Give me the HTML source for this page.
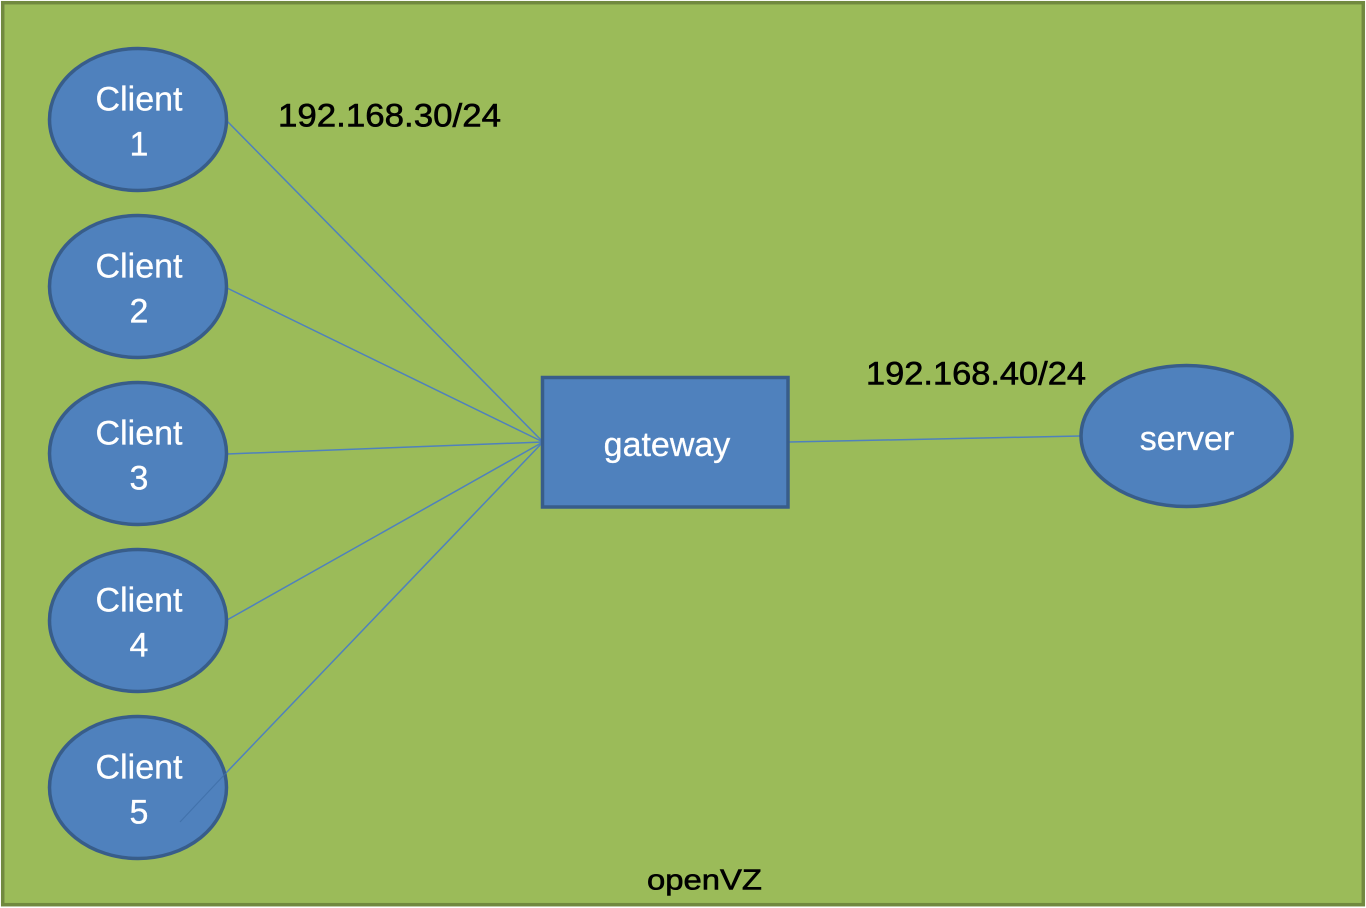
<!DOCTYPE html>
<html>
<head>
<meta charset="utf-8">
<style>
  html, body { margin: 0; padding: 0; background: #ffffff; }
  svg { display: block; }
  text { font-family: "Liberation Sans", Arial, sans-serif; }
</style>
</head>
<body>
<svg width="1366" height="908" viewBox="0 0 1366 908" xmlns="http://www.w3.org/2000/svg">
  <rect x="0" y="0" width="1366" height="908" fill="#ffffff"/>
  <!-- outer container -->
  <rect x="2.7" y="2.7" width="1360.6" height="902" fill="#9BBB59" stroke="#71893F" stroke-width="3.5"/>

  <!-- connectors -->
  <g stroke="#4F81BD" stroke-width="1.5" fill="none">
    <line x1="227" y1="121" x2="543" y2="442"/>
    <line x1="227" y1="288" x2="543" y2="442"/>
    <line x1="227" y1="454" x2="543" y2="442"/>
    <line x1="227" y1="620" x2="543" y2="442"/>
    <line x1="225" y1="774" x2="543" y2="442"/>
    <line x1="789" y1="442" x2="1080" y2="436"/>
  </g>

  <!-- clients -->
  <g fill="#4F81BD" stroke="#385D8A" stroke-width="3.5">
    <ellipse cx="138" cy="119.5" rx="88.5" ry="71"/>
    <ellipse cx="138" cy="286.5" rx="88.5" ry="71"/>
    <ellipse cx="138" cy="453.5" rx="88.5" ry="71"/>
    <ellipse cx="138" cy="620.5" rx="88.5" ry="71"/>
    <ellipse cx="138" cy="787.5" rx="88.5" ry="71"/>
  </g>
  <!-- faint line segment inside client 5 -->
  <line x1="180" y1="822" x2="226" y2="773" stroke="#3F6FA8" stroke-width="1.2" opacity="0.8"/>

  <!-- gateway -->
  <rect x="542.5" y="377.5" width="245.5" height="129.5" fill="#4F81BD" stroke="#385D8A" stroke-width="3.5"/>
  <!-- server -->
  <ellipse cx="1186.5" cy="436" rx="105.5" ry="70.5" fill="#4F81BD" stroke="#385D8A" stroke-width="3.5"/>

  <!-- client labels -->
  <g fill="#ffffff" stroke="#ffffff" stroke-width="0.3" font-size="34" text-anchor="middle">
    <text x="139" y="110.7">Client</text>
    <text x="139" y="155.7">1</text>
    <text x="139" y="277.7">Client</text>
    <text x="139" y="322.7">2</text>
    <text x="139" y="444.7">Client</text>
    <text x="139" y="489.7">3</text>
    <text x="139" y="611.7">Client</text>
    <text x="139" y="656.7">4</text>
    <text x="139" y="778.7">Client</text>
    <text x="139" y="823.7">5</text>
    <text x="667" y="456" font-size="34">gateway</text>
    <text x="1187" y="450" font-size="34">server</text>
  </g>

  <!-- network labels -->
  <g fill="#000000" stroke="#000000" stroke-width="0.6">
    <text x="278" y="126.7" font-size="32" textLength="223" lengthAdjust="spacingAndGlyphs">192.168.30/24</text>
    <text x="866" y="384.3" font-size="32" textLength="220" lengthAdjust="spacingAndGlyphs">192.168.40/24</text>
    <text x="647" y="889.3" font-size="29" textLength="115" lengthAdjust="spacingAndGlyphs">openVZ</text>
  </g>
</svg>
</body>
</html>
